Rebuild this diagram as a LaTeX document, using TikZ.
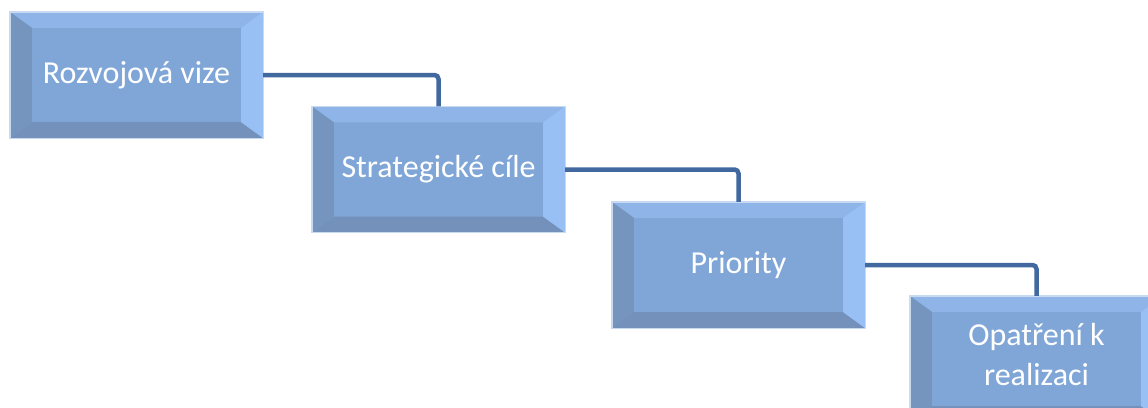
\documentclass[tikz,border=0pt]{standalone}
\usepackage{fontspec}
\setmainfont{Carlito}
\usetikzlibrary{calc}
\definecolor{face}{HTML}{80A6D8}
\definecolor{bevtop}{HTML}{8FB5E8}
\definecolor{bevright}{HTML}{98C0F4}
\definecolor{bevleft}{HTML}{7595BF}
\definecolor{bevbot}{HTML}{7391BB}
\definecolor{glow}{HTML}{C8DAF2}
\definecolor{conn}{HTML}{4169A0}
\tikzset{
  bevelbox/.style={rectangle, minimum width=252pt, minimum height=125pt, inner sep=0pt,
    fill=face, draw=glow, line width=1.2pt},
  boxtext/.style={text=white, font=\fontsize{32}{40}\selectfont, align=center},
  connector/.style={draw=conn, line width=4.5pt, rounded corners=4pt}
}
\newcommand\drawbevel[1]{%
  \fill[bevtop] (#1.north west) -- (#1.north east) -- ([xshift=-22pt,yshift=-16pt]#1.north east) -- ([xshift=22pt,yshift=-16pt]#1.north west) -- cycle;
  \fill[bevbot] (#1.south west) -- (#1.south east) -- ([xshift=-22pt,yshift=16pt]#1.south east) -- ([xshift=22pt,yshift=16pt]#1.south west) -- cycle;
  \fill[bevleft] (#1.north west) -- (#1.south west) -- ([xshift=22pt,yshift=16pt]#1.south west) -- ([xshift=22pt,yshift=-16pt]#1.north west) -- cycle;
  \fill[bevright] (#1.north east) -- (#1.south east) -- ([xshift=-22pt,yshift=16pt]#1.south east) -- ([xshift=-22pt,yshift=-16pt]#1.north east) -- cycle;
  \draw[glow, line width=1.2pt] (#1.north west) rectangle (#1.south east);
}
\begin{document}
\begin{tikzpicture}[x=1pt,y=-1pt]
\useasboundingbox (0,0) rectangle (1148,407);
\node[bevelbox] (b1) at (136.5,75) {};
\node[bevelbox] (b2) at (438.5,169.5) {};
\node[bevelbox] (b3) at (738.5,265) {};
\node[bevelbox] (b4) at (1036.5,359) {};
\drawbevel{b1}
\drawbevel{b2}
\drawbevel{b3}
\drawbevel{b4}
\node[boxtext] (t1) at (b1.center) {Rozvojová vize};
\node[boxtext] (t2) at (b2.center) {Strategické cíle};
\node[boxtext] (t3) at (b3.center) {Priority};
\node[boxtext] (t4) at ([yshift=4pt]b4.center) {Opatření k\\realizaci};
\draw[connector] (b1.east) -| (b2.north);
\draw[connector] (b2.east) -| (b3.north);
\draw[connector] (b3.east) -| (b4.north);
\end{tikzpicture}
\end{document}
